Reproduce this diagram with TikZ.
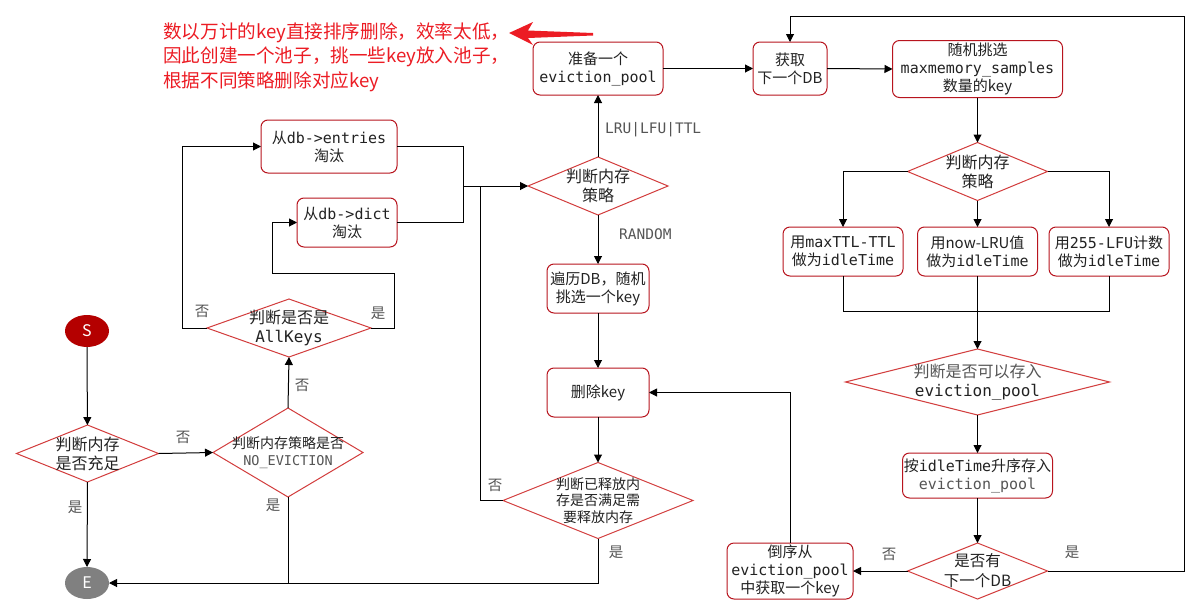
\documentclass[tikz,border=0pt]{standalone}
\usepackage{fontspec}
\setmainfont{Noto Sans CJK SC}
\setmonofont{DejaVu Sans Mono}
\usetikzlibrary{shapes.geometric,arrows.meta}
\definecolor{boxred}{HTML}{B8141E}
\definecolor{diared}{HTML}{D23C3C}
\definecolor{annred}{HTML}{EC1C24}
\definecolor{txt}{HTML}{222222}
\definecolor{lbl}{HTML}{555555}
\definecolor{sred}{HTML}{B40000}
\definecolor{egray}{HTML}{808080}
\newcommand\fsz[2]{\fontsize{#1}{#2}\selectfont}
\newcommand\tm[1]{\texttt{#1}}
\begin{document}
\begin{tikzpicture}[x=1pt,y=-1pt,
 box/.style={draw=boxred, line width=1pt, rounded corners=7pt, inner sep=0pt, outer sep=0pt, align=center, text=txt, font=\fsz{15}{18}},
 dia/.style={draw=diared, line width=1pt, diamond, inner sep=0pt, outer sep=0pt},
 dtext/.style={align=center, text=txt, font=\fsz{16}{19}, inner sep=0pt},
 dsmall/.style={align=center, text=txt, font=\fsz{14}{16.5}, inner sep=0pt},
 term/.style={ellipse, inner sep=0pt, outer sep=0pt, minimum width=44pt, minimum height=32pt, text=white, font=\fsz{16}{19}},
 arr/.style={draw=black, line width=1pt, -{Triangle[length=8pt,width=8pt]}},
 ln/.style={draw=black, line width=1pt},
 elbl/.style={text=lbl, font=\fsz{14.5}{16}, inner sep=0pt},
 mlbl/.style={text=lbl, font=\fsz{14.5}{17}\ttfamily, inner sep=0pt, anchor=west},
]
\fill[white] (0,0) rectangle (1194,608);
\useasboundingbox (0,0) rectangle (1194,608);

% annotation
\node[anchor=west, align=left, text=annred, font=\fsz{18.6}{24.5}, inner sep=0pt] (note) at (163,57)
 {数以万计的key直接排序删除，效率太低，\\因此创建一个池子，挑一些key放入池子，\\根据不同策略删除对应key};
\coordinate (arrTail) at (593,33);
\coordinate (arrTip) at (509,33);
\fill[annred] (arrTip) -- (533,22) -- (528,30.5) -- (arrTail) -- (593,35.5) -- (528,38) -- (533,45) -- cycle;

% boxes
\node[box, minimum width=130pt, minimum height=53pt] (A) at (598,68.5) {准备一个\\\tm{eviction\_pool}};
\node[box, minimum width=74pt, minimum height=53pt] (B) at (790,68.5) {获取\\下一个DB};
\node[box, minimum width=170pt, minimum height=57pt] (C) at (977.5,69) {随机挑选\\\tm{maxmemory\_samples}\\数量的key};
\node[box, minimum width=120pt, minimum height=49pt] (E1) at (843,251.5) {用\tm{maxTTL-TTL}\\做为\tm{idleTime}};
\node[box, minimum width=120pt, minimum height=49pt] (E2) at (977.5,251.5) {用now-LRU值\\做为\tm{idleTime}};
\node[box, minimum width=120pt, minimum height=49pt] (E3) at (1109,251.5) {用\tm{255-LFU}计数\\做为\tm{idleTime}};
\node[box, minimum width=150pt, minimum height=45pt] (F) at (977.5,475.5) {按\tm{idleTime}升序存入\\\textcolor{lbl}{\tm{eviction\_pool}}};
\node[box, minimum width=126pt, minimum height=56pt] (G) at (790,571) {倒序从\\\tm{eviction\_pool}\\中获取一个key};
\node[box, minimum width=102pt, minimum height=49pt] (H) at (598,392.5) {删除key};
\node[box, minimum width=102pt, minimum height=49pt] (R) at (598,288.5) {遍历DB，随机\\挑选一个key};
\node[box, minimum width=136pt, minimum height=53pt] (En) at (329,146.5) {从\tm{db->entries}\\淘汰};
\node[box, minimum width=100pt, minimum height=49pt] (Di) at (347,222.5) {从\tm{db->dict}\\淘汰};

% diamonds
\node[dia, minimum width=140pt, minimum height=58pt, label={[dtext]center:{判断内存\\策略}}] (D1) at (598,186) {};
\node[dia, minimum width=140pt, minimum height=58pt, label={[dtext]center:{判断内存\\策略}}] (D2) at (977.5,171.5) {};
\node[dia, minimum width=264pt, minimum height=66pt, label={[dtext]center:{\textcolor{lbl}{判断是否可以存入}\\\tm{eviction\_pool}}}] (D3) at (977.5,382) {};
\node[dia, minimum width=140pt, minimum height=56pt, label={[dtext,font=\fsz{15.5}{20}]center:{是否有\\下一个DB}}] (D4) at (977.5,571) {};
\node[dia, minimum width=190pt, minimum height=76pt, label={[dsmall]center:{判断已释放内\\存是否满足需\\要释放内存}}] (D5) at (598,500.5) {};
\node[dia, minimum width=164pt, minimum height=58pt, label={[dtext]center:{判断是否是\\\tm{AllKeys}}}] (D6) at (289,328) {};
\node[dia, minimum width=142pt, minimum height=57pt, label={[dtext]center:{判断内存\\是否充足}}] (D7) at (87.5,453.5) {};
\node[dia, minimum width=150pt, minimum height=89pt, label={[dsmall]center:{判断内存策略是否\\\textcolor{lbl}{\fsz{13.5}{19}\tm{NO\_EVICTION}}}}] (D8) at (288,452.5) {};

% terminals
\node[term, fill=sred] (S) at (87,331) {S};
\node[term, fill=egray] (E) at (87,583) {E};

% coordinates
\coordinate (j1) at (463,186);
\coordinate (j2) at (480,186);
\coordinate (j3) at (977.5,311);
\coordinate (loopTR) at (1184,16);
\coordinate (d6r) at (394,273);
\coordinate (d6l) at (272,273);

% connectors
\draw[arr] (S) -- (D7);
\draw[arr] (D7.east) -- (D8.west);
\draw[arr] (D7.south) -- (E.north);
\draw[arr] (D8.north) -- (D6.south);
\draw[ln] (D8.south) -- (D8.south |- E.east);
\draw[arr] (D6.west) -- ++(-25,0) |- (En.west);
\draw[arr] (D6.east) -| (d6r) -- (d6l) |- (Di.west);
\draw[ln] (En.east) -| (j1);
\draw[ln] (Di.east) -| (j1);
\draw[arr] (j1) -- (D1.west);
\draw[ln] (D5.west) -| (j2);
\draw[arr] (D1.north) -- (A.south);
\draw[arr] (D1.south) -- (R.north);
\draw[arr] (R.south) -- (H.north);
\draw[arr] (H.south) -- (D5.north);
\draw[arr] (D5.south) |- (E.east);
\draw[arr] (A.east) -- (B.west);
\draw[arr] (B.east) -- (C.west);
\draw[arr] (C.south) -- (D2.north);
\draw[arr] (D2.west) -| (E1.north);
\draw[arr] (D2.south) -- (E2.north);
\draw[arr] (D2.east) -| (E3.north);
\draw[ln] (E1.south) |- (j3);
\draw[ln] (E3.south) |- (j3);
\draw[ln] (E2.south) -- (j3);
\draw[arr] (j3) -- (D3.north);
\draw[arr] (D3.south) -- (F.north);
\draw[arr] (F.south) -- (D4.north);
\draw[arr] (D4.west) -- (G.east);
\draw[arr] (D4.east) -| (loopTR) -| (B.north);
\draw[arr] (G.north) |- (H.east);

% edge labels
\node[elbl] (l1) at (183,437) {否};
\node[elbl] (l2) at (75,507) {是};
\node[elbl] (l3) at (302,385) {否};
\node[elbl] (l4) at (273,505) {是};
\node[elbl] (l5) at (202,311) {否};
\node[elbl] (l6) at (378,313) {是};
\node[elbl] (l7) at (495,485) {否};
\node[elbl] (l8) at (616,552) {是};
\node[elbl] (l9) at (889,554) {否};
\node[elbl] (l10) at (1072,552) {是};
\node[mlbl] (l11) at (605,130) {LRU|LFU|TTL};
\node[mlbl] (l12) at (619,234) {RANDOM};
\end{tikzpicture}
\end{document}
